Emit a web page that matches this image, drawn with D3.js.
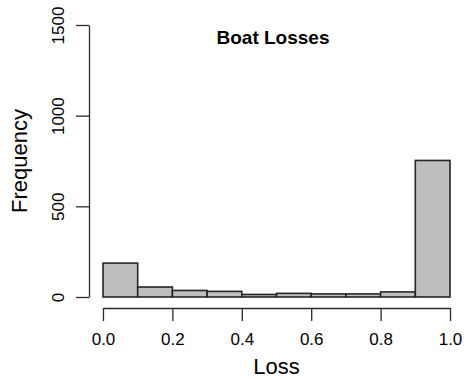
<!DOCTYPE html>
<html>
<head>
<meta charset="utf-8">
<script src="https://cdn.jsdelivr.net/npm/d3@7"></script>
<style>
  body { margin: 0; background: #fff; }
  text { font-family: "Liberation Sans", Arial, sans-serif; fill: #000; }
</style>
</head>
<body>
<div id="chart"></div>
<script>
const width = 468;
const height = 380;

// histogram bins (left edges) and counts
const binStarts = [0.0, 0.1, 0.2, 0.3, 0.4, 0.5, 0.6, 0.7, 0.8, 0.9];
const counts = [187, 55, 36, 31, 14, 20, 17, 17, 28, 753];
const binWidth = 0.1;

const xTicks = [0, 0.2, 0.4, 0.6, 0.8, 1.0];
const yTicks = [0, 500, 1000, 1500];

const svg = d3.select("#chart")
  .append("svg")
  .attr("width", width)
  .attr("height", height);

const x = d3.scaleLinear().domain([0, 1]).range([103, 450]);
const y = d3.scaleLinear().domain([0, 1500]).range([297, 25]);

// bars
svg.selectAll("rect.bar")
  .data(binStarts)
  .enter()
  .append("rect")
  .attr("class", "bar")
  .attr("x", d => x(d))
  .attr("width", d => x(d + binWidth) - x(d))
  .attr("y", (d, i) => y(counts[i]))
  .attr("height", (d, i) => y(0) - y(counts[i]))
  .attr("fill", "#bebebe")
  .attr("stroke", "#262626")
  .attr("stroke-width", 1.6);

// x axis
const xAxis = svg.append("g")
  .attr("transform", "translate(0,308)")
  .call(d3.axisBottom(x).tickValues(xTicks).tickFormat(d3.format(".1f")).tickSize(13).tickSizeOuter(0));
xAxis.select(".domain").attr("stroke", "#2b2b2b").attr("stroke-width", 1.3);
xAxis.selectAll(".tick line").attr("stroke", "#2b2b2b").attr("stroke-width", 1.3);
xAxis.selectAll(".tick text")
  .attr("y", 25)
  .attr("dy", "0.71em")
  .style("font-size", "17px")
  .style("font-family", "'Liberation Sans', Arial, sans-serif")
  .attr("fill", "#000");

// y axis
const yAxis = svg.append("g")
  .attr("transform", "translate(89,0)")
  .call(d3.axisLeft(y).tickValues(yTicks).tickFormat(d3.format("d")).tickSize(13).tickSizeOuter(0));
yAxis.select(".domain").attr("stroke", "#2b2b2b").attr("stroke-width", 1.3);
yAxis.selectAll(".tick line").attr("stroke", "#2b2b2b").attr("stroke-width", 1.3);
yAxis.selectAll(".tick text")
  .attr("x", null)
  .attr("dy", null)
  .attr("text-anchor", "middle")
  .attr("transform", "translate(-25,0) rotate(-90)")
  .attr("y", 0)
  .style("font-size", "17px")
  .style("font-family", "'Liberation Sans', Arial, sans-serif")
  .attr("fill", "#000");

// title
svg.append("text")
  .attr("x", 273)
  .attr("y", 44)
  .attr("text-anchor", "middle")
  .style("font-size", "19px")
  .style("font-weight", "bold")
  .text("Boat Losses");

// axis titles
svg.append("text")
  .attr("x", (x(0) + x(1)) / 2)
  .attr("y", 374)
  .attr("text-anchor", "middle")
  .style("font-size", "22px")
  .text("Loss");

svg.append("text")
  .attr("transform", `translate(27,${(y(0) + y(1500)) / 2}) rotate(-90)`)
  .attr("text-anchor", "middle")
  .style("font-size", "22px")
  .text("Frequency");
</script>
</body>
</html>
